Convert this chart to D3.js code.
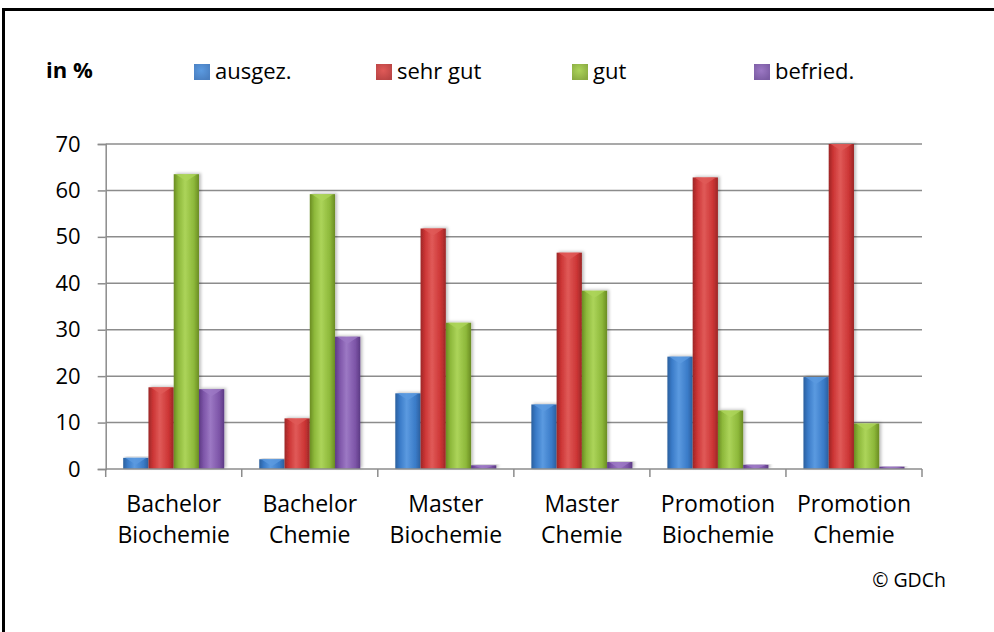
<!DOCTYPE html>
<html>
<head>
<meta charset="utf-8">
<script src="https://cdn.jsdelivr.net/npm/d3@7"></script>
<style>
  body { margin: 0; background: #fff; }
  svg text { font-family: "Open Sans", "Noto Sans", sans-serif; fill: #000; }
</style>
</head>
<body>
<script>
// grades per degree programme, in %
var categories = ["Bachelor Biochemie", "Bachelor Chemie", "Master Biochemie",
                  "Master Chemie", "Promotion Biochemie", "Promotion Chemie"];
var seriesNames = ["ausgez.", "sehr gut", "gut", "befried."];
var ausgez   = [2.4, 2.1, 16.3, 13.9, 24.2, 19.8];
var sehrGut  = [17.6, 10.9, 51.8, 46.6, 62.8, 70.0];
var gut      = [63.5, 59.2, 31.5, 38.4, 12.6, 9.8];
var befried  = [17.2, 28.5, 0.8, 1.5, 0.9, 0.5];
var yTicks   = [0, 10, 20, 30, 40, 50, 60, 70];

var seriesValues = [ausgez, sehrGut, gut, befried];

//Width and height
var w = 994;
var h = 632;

// colours per series: dark edge, mid, light
var colors = [
  { dark: "#2a5f9e", mid: "#3a7bc8", light: "#5b9ae0", key: "#4a7fc0" },
  { dark: "#9c2626", mid: "#cc3535", light: "#e05a58", key: "#b94444" },
  { dark: "#6a8c22", mid: "#8db83a", light: "#acd45a", key: "#8aab42" },
  { dark: "#5c3a84", mid: "#7d55a8", light: "#9c78c4", key: "#7b5ca3" }
];

var svg = d3.select("body")
            .append("svg")
            .attr("width", w)
            .attr("height", h);

var defs = svg.append("defs");

colors.forEach(function(c, i) {
  var g = defs.append("linearGradient")
              .attr("id", "bar" + i)
              .attr("x1", "0").attr("x2", "1").attr("y1", "0").attr("y2", "0");
  g.append("stop").attr("offset", "0%").attr("stop-color", c.dark);
  g.append("stop").attr("offset", "18%").attr("stop-color", c.mid);
  g.append("stop").attr("offset", "45%").attr("stop-color", c.light);
  g.append("stop").attr("offset", "80%").attr("stop-color", c.mid);
  g.append("stop").attr("offset", "100%").attr("stop-color", c.dark);

  var k = defs.append("radialGradient")
              .attr("id", "key" + i)
              .attr("cx", "45%").attr("cy", "40%").attr("r", "65%");
  k.append("stop").attr("offset", "0%").attr("stop-color", c.light);
  k.append("stop").attr("offset", "100%").attr("stop-color", c.key);
});

var shadow = defs.append("filter").attr("id", "shadow")
                 .attr("x", "-30%").attr("y", "-10%").attr("width", "160%").attr("height", "120%");
shadow.append("feDropShadow")
      .attr("dx", 2).attr("dy", -1)
      .attr("stdDeviation", 1.5)
      .attr("flood-color", "#000")
      .attr("flood-opacity", 0.25);

// frame (only top and left edge are visible)
svg.append("path")
   .attr("d", "M3.5,632 V9.5 H994")
   .attr("fill", "none")
   .attr("stroke", "#000")
   .attr("stroke-width", 3);

// scales
var x0 = d3.scaleBand()
           .domain(categories)
           .range([105.7, 922]);

var x1 = d3.scaleBand()
           .domain(seriesNames)
           .range([17.5, x0.bandwidth() - 17.5]);

var y = d3.scaleLinear()
          .domain([0, 70])
          .range([469, 144]);

// gridlines
svg.append("g")
   .selectAll("line")
   .data(yTicks.filter(function(d) { return d > 0; }))
   .enter()
   .append("line")
   .attr("x1", 105.7)
   .attr("x2", 922)
   .attr("y1", function(d) { return y(d); })
   .attr("y2", function(d) { return y(d); })
   .attr("stroke", "#8c8c8c")
   .attr("stroke-width", 1.5);

// y axis
var yAxis = svg.append("g")
   .attr("transform", "translate(105.7,0)")
   .call(d3.axisLeft(y).tickValues(yTicks).tickSize(8).tickPadding(17));
yAxis.select(".domain").attr("stroke", "#8c8c8c").attr("stroke-width", 1.5);
yAxis.selectAll(".tick line").attr("stroke", "#8c8c8c").attr("stroke-width", 1.5);
yAxis.selectAll(".tick text")
     .attr("font-size", "22px")
     .attr("font-family", "Open Sans, sans-serif")
     .attr("fill", "#000");

// bars
var groups = svg.append("g")
   .selectAll("g")
   .data(categories)
   .enter()
   .append("g")
   .attr("transform", function(d) { return "translate(" + x0(d) + ",0)"; });

var bars = groups.selectAll("g.bar")
   .data(function(d, ci) {
     return seriesNames.map(function(s, si) {
       return { series: s, si: si, value: seriesValues[si][ci] };
     });
   })
   .enter()
   .append("g")
   .attr("class", "bar");

bars.append("rect")
    .attr("x", function(d) { return x1(d.series); })
    .attr("y", function(d) { return y(d.value); })
    .attr("width", x1.bandwidth())
    .attr("height", function(d) { return y(0) - y(d.value); })
    .attr("fill", function(d) { return "url(#bar" + d.si + ")"; })
    .attr("filter", "url(#shadow)");

// small lighter bevel on top of each bar
bars.append("path")
    .attr("d", function(d) {
      var bx = x1(d.series), bw = x1.bandwidth(), top = y(d.value);
      var bh = Math.min(7, y(0) - top);
      return "M" + (bx + 2) + "," + top + "H" + (bx + bw - 2) +
             "L" + (bx + bw / 2) + "," + (top + bh) + "Z";
    })
    .attr("fill", function(d) { return colors[d.si].light; })
    .attr("opacity", 0.8);

// x axis
var xAxis = svg.append("g")
   .attr("transform", "translate(0,469)");
xAxis.append("line")
     .attr("x1", 105.7).attr("x2", 922)
     .attr("stroke", "#8c8c8c").attr("stroke-width", 1.5);
xAxis.selectAll("line.tick")
     .data(categories.concat(["end"]))
     .enter()
     .append("line")
     .attr("class", "tick")
     .attr("x1", function(d, i) { return 105.7 + i * x0.bandwidth(); })
     .attr("x2", function(d, i) { return 105.7 + i * x0.bandwidth(); })
     .attr("y1", 0).attr("y2", 8)
     .attr("stroke", "#8c8c8c").attr("stroke-width", 1.5);

// category labels on two lines
var catLabels = svg.append("g")
   .selectAll("text")
   .data(categories)
   .enter()
   .append("text")
   .attr("text-anchor", "middle")
   .attr("font-size", "23px");
catLabels.selectAll("tspan")
   .data(function(d) { return d.split(" "); })
   .enter()
   .append("tspan")
   .attr("x", function() { var c = d3.select(this.parentNode).datum(); return x0(c) + x0.bandwidth() / 2; })
   .attr("y", function(d, i) { return 511.5 + i * 31.6; })
   .text(function(d) { return d; });

// unit label
svg.append("text")
   .attr("x", 46)
   .attr("y", 78)
   .attr("font-size", "22px")
   .attr("font-weight", "bold")
   .text("in %");

// legend
var legendX = [194, 376, 572, 754];
var legend = svg.append("g")
   .selectAll("g")
   .data(seriesNames)
   .enter()
   .append("g")
   .attr("transform", function(d, i) { return "translate(" + legendX[i] + ",0)"; });
legend.append("rect")
   .attr("x", 0).attr("y", 64)
   .attr("width", 16).attr("height", 16)
   .attr("fill", function(d, i) { return "url(#key" + i + ")"; });
legend.append("text")
   .attr("x", 21)
   .attr("y", 79)
   .attr("font-size", "22px")
   .text(function(d) { return d; });

// source note
svg.append("text")
   .attr("x", 946)
   .attr("y", 587)
   .attr("text-anchor", "end")
   .attr("font-size", "19.5px")
   .text("© GDCh");
</script>
</body>
</html>
